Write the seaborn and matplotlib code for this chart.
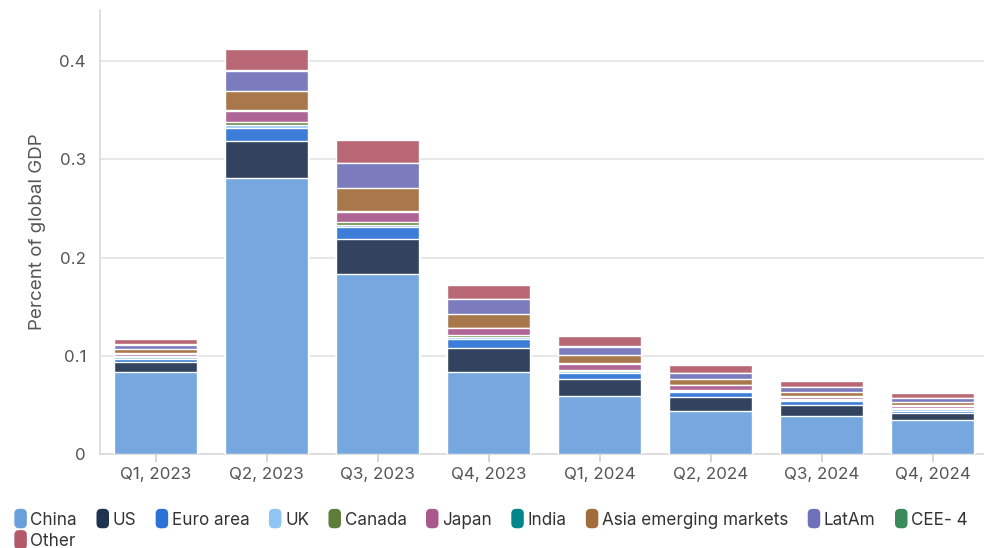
import matplotlib
matplotlib.use("Agg")
import numpy as np
import pandas as pd
import matplotlib.pyplot as plt
import seaborn as sns
from matplotlib.patches import FancyBboxPatch, Patch
from matplotlib.legend_handler import HandlerPatch
from matplotlib.colors import to_rgb

quarters = ["Q1, 2023", "Q2, 2023", "Q3, 2023", "Q4, 2023",
            "Q1, 2024", "Q2, 2024", "Q3, 2024", "Q4, 2024"]

china = [0.0838, 0.2810, 0.1835, 0.0838, 0.0587, 0.0437, 0.0388, 0.0345]
us = [0.0097, 0.0377, 0.0352, 0.0238, 0.0180, 0.0145, 0.0107, 0.0071]
euro_area = [0.0035, 0.0133, 0.0120, 0.0091, 0.0060, 0.0048, 0.0045, 0.0021]
uk = [0.0015, 0.0025, 0.0028, 0.0028, 0.0020, 0.0016, 0.0009, 0.0019]
canada = [0.0008, 0.0035, 0.0022, 0.0016, 0.0013, 0.0010, 0.0006, 0.0009]
japan = [0.0028, 0.0112, 0.0105, 0.0068, 0.0060, 0.0042, 0.0030, 0.0026]
india = [0.0004, 0.0009, 0.0008, 0.0005, 0.0006, 0.0005, 0.0003, 0.0003]
asia_em = [0.0041, 0.0195, 0.0238, 0.0142, 0.0078, 0.0058, 0.0047, 0.0037]
latam = [0.0048, 0.0203, 0.0253, 0.0150, 0.0088, 0.0063, 0.0048, 0.0042]
cee4 = [0.0003, 0.0006, 0.0005, 0.0004, 0.0004, 0.0003, 0.0002, 0.0002]
other = [0.0052, 0.0220, 0.0232, 0.0145, 0.0106, 0.0078, 0.0059, 0.0049]

regions = ["China", "US", "Euro area", "UK", "Canada", "Japan", "India",
           "Asia emerging markets", "LatAm", "CEE- 4", "Other"]
series = [china, us, euro_area, uk, canada, japan, india,
          asia_em, latam, cee4, other]
colors = ["#6a9fdc", "#1f3350", "#2a72d5", "#90c4f2", "#5e7d3a", "#a8588c",
          "#00868b", "#a06c3c", "#7070b8", "#3a8a5a", "#b35a68"]

df = pd.DataFrame(dict(zip(regions, series)), index=quarters)
tops = df.cumsum(axis=1)


def soften(c, amount=0.92):
    r, g, b = to_rgb(c)
    return (1 - amount + amount * r, 1 - amount + amount * g, 1 - amount + amount * b)


sns.set_theme(style="white")
plt.rcParams["font.family"] = ["Inter", "DejaVu Sans"]

fig = plt.figure(figsize=(9.84, 5.48), dpi=100)
ax = fig.add_axes([100 / 984, 1 - 454 / 548, (988 - 100) / 984, (454 - 10) / 548])

# Stacked bars: draw cumulative totals from the top layer down
for region, color in reversed(list(zip(regions, colors))):
    sns.barplot(x=quarters, y=tops[region].values, color=soften(color),
                saturation=1, width=0.75, edgecolor="white", linewidth=1,
                ax=ax, zorder=3)

ax.set_ylim(0, 0.452)
ax.set_xlim(-0.5, 7.5)
ax.set_yticks([0, 0.1, 0.2, 0.3, 0.4])
ax.set_yticklabels(["0", "0.1", "0.2", "0.3", "0.4"])
ax.yaxis.grid(True, color="#e3e3e3", linewidth=1.2, zorder=0)
ax.xaxis.grid(False)
for s in ["top", "right"]:
    ax.spines[s].set_visible(False)
for s in ["left", "bottom"]:
    ax.spines[s].set_color("#d9d9d9")
    ax.spines[s].set_linewidth(1.2)
ax.tick_params(axis="x", length=6, color="#d0d0d0", width=1.2,
               labelsize=12.2, labelcolor="#555555", pad=3, bottom=True)
ax.tick_params(axis="y", length=0, labelsize=12.2, labelcolor="#555555", pad=10)
ax.set_ylabel("Percent of global GDP", fontsize=13.5, color="#555555", labelpad=10)
ax.set_xlabel("")


class PillHandler(HandlerPatch):
    def create_artists(self, legend, orig_handle, xdescent, ydescent,
                       width, height, fontsize, trans):
        w = 9
        h = 14
        x = -xdescent + (width - w) / 2
        y = -ydescent + (height - h) / 2
        p = FancyBboxPatch((x, y), w, h,
                           boxstyle="round,pad=0,rounding_size=3.5",
                           facecolor=orig_handle.get_facecolor(),
                           edgecolor="none", transform=trans)
        return [p]


handles = [Patch(facecolor=c, label=r) for r, c in zip(regions, colors)]
# Order so that "Other" wraps alone onto the second row
order = [0, 10] + list(range(1, 10))
leg = fig.legend([handles[i] for i in order], [regions[i] for i in order],
                 ncol=10, loc="lower left", bbox_to_anchor=(0.004, -0.022),
                 frameon=False, fontsize=12.3, handlelength=0.75,
                 handletextpad=0.2, columnspacing=1.13, labelspacing=0.25,
                 handler_map={Patch: PillHandler()}, borderaxespad=0.2)
for t in leg.get_texts():
    t.set_color("#333333")

fig.savefig("out.png", dpi=100)
